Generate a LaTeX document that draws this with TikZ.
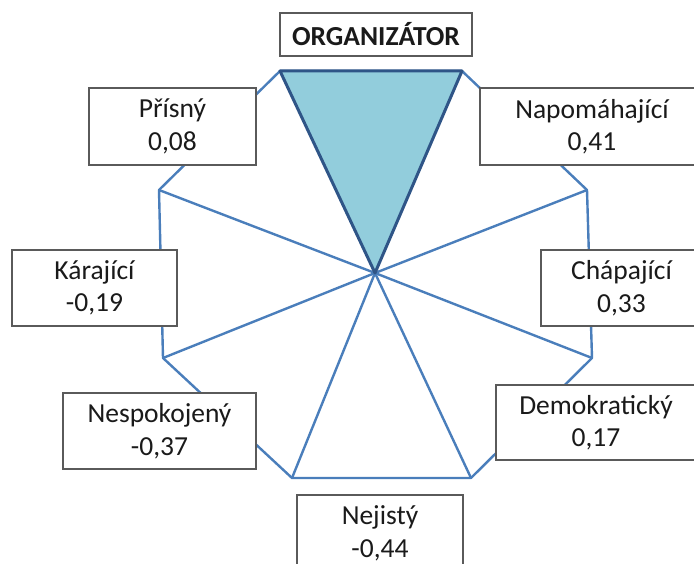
\documentclass[tikz,border=0pt]{standalone}
\usepackage{fontspec}
\setmainfont{Carlito}
\begin{document}
\begin{tikzpicture}[x=1pt,y=-1pt,
  spoke/.style={draw=spokeblue, line width=2.4pt, line join=round},
  topwedge/.style={fill=wedgefill, draw=wedgeedge, line width=3pt, line join=round},
  label/.style={draw=boxgray, line width=1.3pt, fill=white, inner sep=0pt,
    align=center, text=textdark, font=\fontsize{27.5}{32.5}\selectfont},
  title/.style={label, font=\fontsize{27.5}{32.5}\selectfont\bfseries}]
\definecolor{spokeblue}{HTML}{4A7EBB}
\definecolor{wedgefill}{HTML}{92CDDC}
\definecolor{wedgeedge}{HTML}{2F5587}
\definecolor{boxgray}{HTML}{5A5A5A}
\definecolor{textdark}{HTML}{1A1A1A}
\useasboundingbox (0,0) rectangle (694,564);
\clip (0,0) rectangle (694,564);

% hub and rim of the octagon
\coordinate (hub) at (375,273);
\coordinate (v1) at (280,71);
\coordinate (v2) at (462,71);
\coordinate (v3) at (587,190);
\coordinate (v4) at (592,358);
\coordinate (v5) at (471,478);
\coordinate (v6) at (292,478);
\coordinate (v7) at (163,358);
\coordinate (v8) at (159,190);

\draw[spoke] (v1) -- (v2) -- (v3) -- (v4) -- (v5) -- (v6) -- (v7) -- (v8) -- cycle;
\foreach \v in {v3,v4,v5,v6,v7,v8} \draw[spoke] (hub) -- (\v);

% highlighted sector
\filldraw[topwedge] (hub) -- (v1) -- (v2) -- cycle;

% labels
\node[title, minimum width=192pt, minimum height=43pt] (org) at (376,34.5) {ORGANIZÁTOR};
\node[label, minimum width=224pt, minimum height=77pt] (napo) at (592,126.5) {Napomáhající\\0,41};
\node[label, minimum width=167pt, minimum height=77pt] (pris) at (172.5,126.5) {Přísný\\0,08};
\node[label, minimum width=165pt, minimum height=76pt] (kara) at (94.5,288) {Kárající\\-0,19};
\node[label, minimum width=161pt, minimum height=76pt] (chap) at (621.5,288) {Chápající\\0,33};
\node[label, minimum width=193pt, minimum height=76pt] (nesp) at (159.5,431) {Nespokojený\\-0,37};
\node[label, minimum width=200pt, minimum height=75pt] (demo) at (596,422.5) {Demokratický\\0,17};
\node[label, minimum width=166pt, minimum height=77pt] (neji) at (380,533.5) {Nejistý\\-0,44};
\end{tikzpicture}
\end{document}
